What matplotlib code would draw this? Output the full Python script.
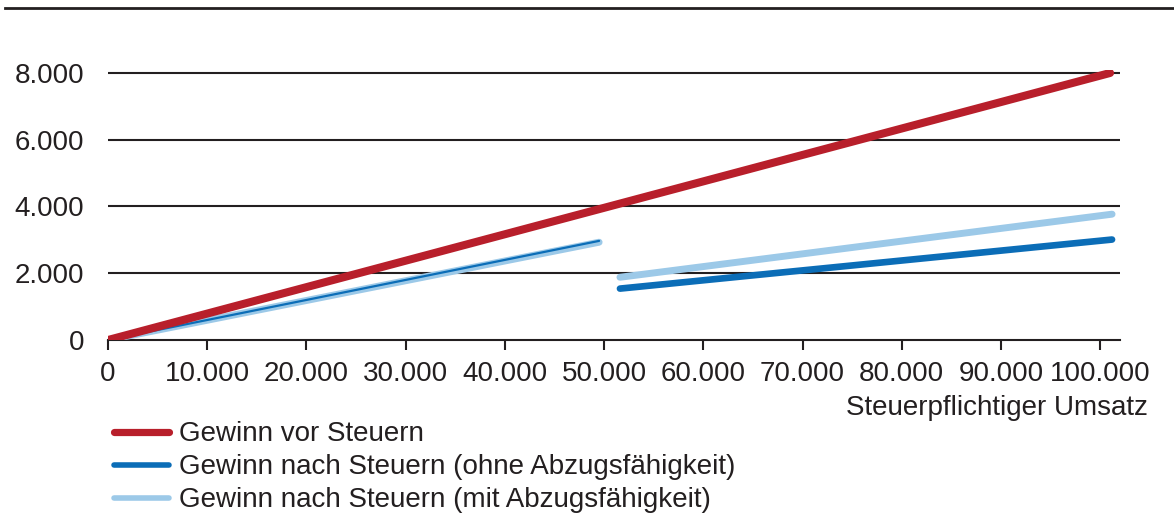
import matplotlib.pyplot as plt
from matplotlib.lines import Line2D
from matplotlib.ticker import FuncFormatter

plt.rcParams["font.family"] = ["Liberation Sans", "DejaVu Sans"]

# Gewinn vor Steuern (linear)
umsatz_vor = [0, 101000]
gewinn_vor = [0, 8000]

# Gewinn nach Steuern, ohne Abzugsfähigkeit (zwei Abschnitte)
umsatz_ohne_1 = [0, 49500]
gewinn_ohne_1 = [0, 2970]
umsatz_ohne_2 = [51600, 101200]
gewinn_ohne_2 = [1540, 3010]

# Gewinn nach Steuern, mit Abzugsfähigkeit
umsatz_mit_1 = [0, 49500]
gewinn_mit_1 = [0, 2930]
umsatz_mit_2 = [51600, 101200]
gewinn_mit_2 = [1880, 3770]

x_ticks = list(range(0, 100001, 10000))
y_ticks = [0, 2000, 4000, 6000, 8000]

RED = "#B81F2B"
DARK = "#0B6DB7"
LIGHT = "#9CC9E8"
GRID = "#231F20"
FS = 20

fig = plt.figure(figsize=(11.74, 5.14), dpi=100)
ax = fig.add_axes([0.092, 0.3385, 0.862, 0.526])

def tsd(v, _pos=None):
    return f"{int(v):,}".replace(",", ".")

for y in y_ticks[1:]:
    ax.axhline(y, color=GRID, lw=1.5, zorder=1)

ax.plot(umsatz_mit_1, gewinn_mit_1, color=LIGHT, lw=5, solid_capstyle="round", zorder=2)
ax.plot(umsatz_ohne_1, gewinn_ohne_1, color=DARK, lw=1.6, solid_capstyle="round", zorder=3)
ax.plot(umsatz_mit_2, gewinn_mit_2, color=LIGHT, lw=5, solid_capstyle="round", zorder=2)
ax.plot(umsatz_ohne_2, gewinn_ohne_2, color=DARK, lw=4.8, solid_capstyle="round", zorder=3)
ax.plot(umsatz_vor, gewinn_vor, color=RED, lw=5.8, solid_capstyle="round", zorder=4)

ax.set_xlim(0, 102000)
ax.set_ylim(0, 8100)
ax.set_xticks(x_ticks)
ax.set_yticks(y_ticks)
ax.xaxis.set_major_formatter(FuncFormatter(tsd))
ax.yaxis.set_major_formatter(FuncFormatter(tsd))
ax.tick_params(axis="x", direction="out", length=7, width=1.5, color=GRID,
               labelsize=FS, labelcolor=GRID, pad=8)
ax.tick_params(axis="y", length=0, labelsize=FS, labelcolor=GRID, pad=17)
for s in ["top", "right", "left"]:
    ax.spines[s].set_visible(False)
ax.spines["bottom"].set_color(GRID)
ax.spines["bottom"].set_linewidth(1.5)
ax.spines["bottom"].set_zorder(1)

fig.text(0.978, 0.206, "Steuerpflichtiger Umsatz", ha="right", va="center",
         fontsize=FS, color=GRID)

handles = [
    Line2D([], [], color=RED, lw=5.2, solid_capstyle="round"),
    Line2D([], [], color=DARK, lw=4, solid_capstyle="round"),
    Line2D([], [], color=LIGHT, lw=4, solid_capstyle="round"),
]
labels = [
    "Gewinn vor Steuern",
    "Gewinn nach Steuern (ohne Abzugsfähigkeit)",
    "Gewinn nach Steuern (mit Abzugsfähigkeit)",
]
fig.legend(handles, labels, loc="upper left", bbox_to_anchor=(0.0975, 0.180),
           frameon=False, fontsize=FS, handlelength=1.95, handletextpad=0.36,
           labelspacing=0.25, borderpad=0, borderaxespad=0, labelcolor=GRID)

# rule across the top edge
fig.add_artist(Line2D([0.004, 1.0], [0.984, 0.984], color=GRID, lw=2))

fig.savefig("out.png", dpi=100)
